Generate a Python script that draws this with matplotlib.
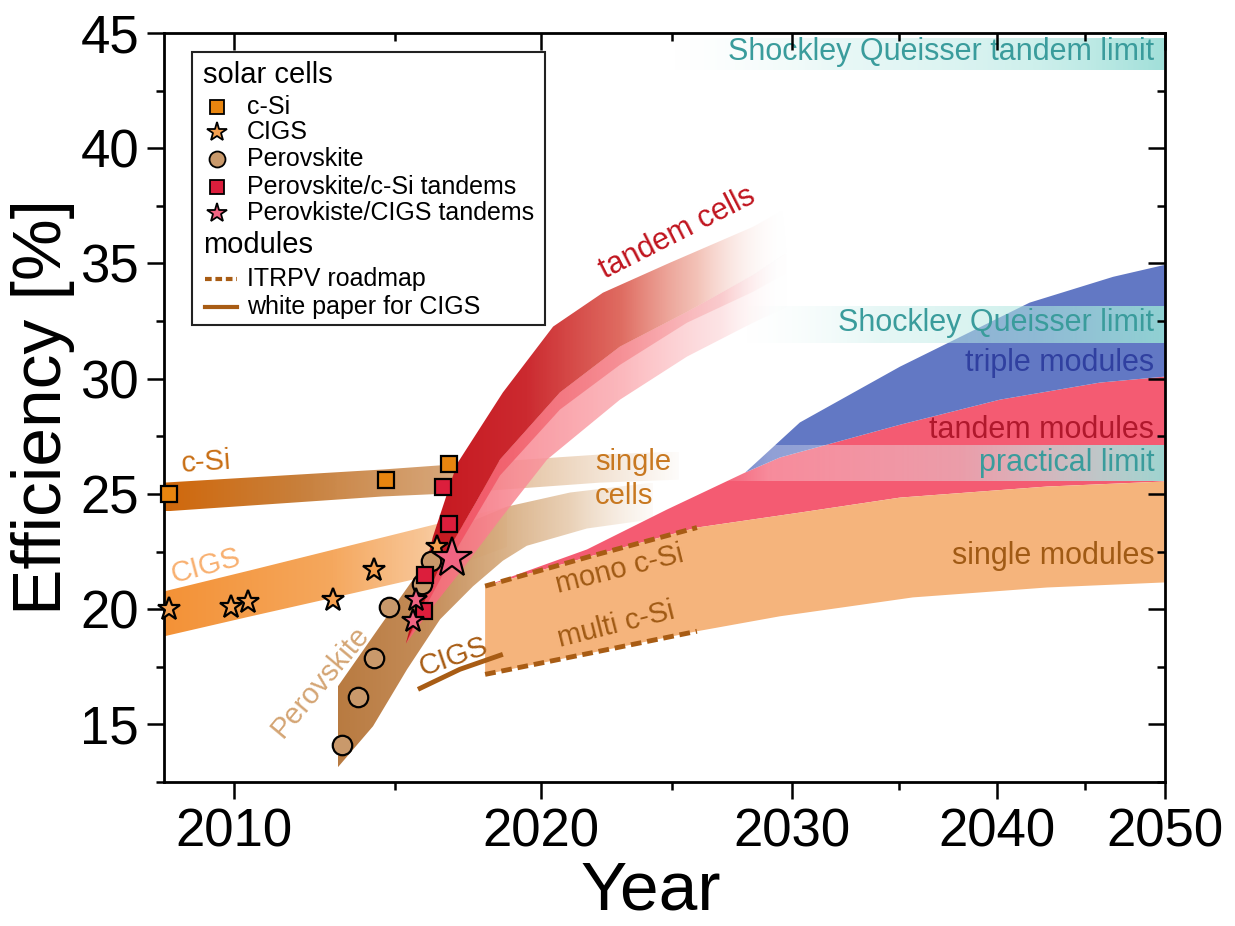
import numpy as np
import matplotlib.pyplot as plt
from matplotlib.colors import to_rgb
from matplotlib.patches import Rectangle

plt.rcParams['font.family'] = ['Liberation Sans', 'DejaVu Sans']

# record cells (year, efficiency %)
csi_year = [2008.1, 2014.7, 2016.8]
csi_eff = [25.0, 25.6, 26.3]
cigs_year = [2008.1, 2009.9, 2010.4, 2013.0, 2014.3, 2016.4]
cigs_eff = [20.0, 20.1, 20.3, 20.4, 21.7, 22.7]
pero_year = [2013.3, 2013.8, 2014.3, 2014.8, 2015.9, 2016.2]
pero_eff = [14.1, 16.2, 17.9, 20.1, 21.1, 22.1]
tsi_year = [2015.95, 2016.0, 2016.8, 2016.6]
tsi_eff = [19.9, 21.5, 23.7, 25.3]
tcigs_year = [2015.6, 2015.7, 2016.9]
tcigs_eff = [19.5, 20.4, 22.2]

# cell bands (edges as (year, eff))
csi_top = [(2007.96, 25.49), (2014.6, 26.06), (2016.82, 26.27), (2022.19, 26.71), (2025.3, 26.84)]
csi_bot = [(2007.96, 24.24), (2014.6, 24.89), (2016.82, 25.02), (2022.19, 25.49), (2025.3, 25.62)]
cigs_top = [(2007.96, 20.77), (2010.46, 21.68), (2013.54, 22.76), (2016.05, 23.59), (2018.8, 24.45)]
cigs_bot = [(2007.96, 18.82), (2010.46, 19.68), (2013.54, 20.66), (2016.05, 21.42), (2018.8, 22.7)]
pero_top = [(2013.16, 16.65), (2014.5, 19.25), (2015.59, 21.29), (2016.05, 22.3), (2017.16, 23.6),
            (2018.8, 24.45), (2021.07, 25.06), (2024.23, 25.49)]
pero_bot = [(2013.16, 13.14), (2014.28, 14.92), (2015.39, 17.39), (2016.49, 19.56), (2017.61, 20.99),
            (2018.65, 22.1), (2019.5, 22.75), (2021.7, 23.5), (2024.23, 23.9)]
tand_top = [(2015.35, 18.5), (2016.25, 23.15), (2017.06, 26.3), (2018.65, 29.4), (2020.45, 32.26),
            (2022.3, 33.73), (2024.9, 35.03), (2028.33, 36.59), (2029.6, 37.3)]
tand_mid = [(2015.35, 18.5), (2016.6, 22.2), (2017.7, 24.6), (2018.55, 26.49), (2020.7, 29.4),
            (2022.95, 31.39), (2025.59, 32.9), (2028.33, 34.5), (2029.8, 35.46)]
tand_stripe = [(2015.35, 18.5), (2017.0, 22.5), (2018.55, 25.8), (2020.7, 28.66), (2022.95, 30.6),
               (2025.59, 32.43), (2028.33, 33.77), (2029.8, 34.6)]
tand_bot = [(2015.35, 18.5), (2016.25, 20.12), (2017.16, 21.59), (2018.55, 23.89), (2020.23, 26.49),
            (2022.95, 29.09), (2025.59, 30.96), (2028.33, 32.43), (2029.8, 33.12)]

# module bands
single_top = [(2018.03, 21.0), (2021.85, 22.3), (2025.99, 23.54), (2030.37, 24.19), (2035.03, 24.84),
              (2042.78, 25.32), (2050, 25.54)]
single_bot = [(2018.03, 17.17), (2021.85, 18.1), (2025.99, 19.04), (2029.49, 19.69), (2035.67, 20.51),
              (2042.78, 20.94), (2050, 21.16)]
tmod_top = [(2018.03, 21.0), (2021.7, 22.59), (2024.78, 24.32), (2028.0, 25.93), (2029.49, 26.58),
            (2035.03, 28.0), (2040.17, 29.09), (2045.89, 29.83), (2050, 30.09)]
triple_top = [(2028.0, 25.93), (2030.37, 28.1), (2035.03, 30.52), (2041.8, 33.3), (2046.7, 34.42),
              (2050, 34.94)]

# roadmap lines
itrpv_year = [2018.03, 2021.85, 2025.99]
mono_eff = [21.0, 22.3, 23.54]
multi_eff = [17.17, 18.1, 19.04]
wp_year = [2015.75, 2017.16, 2018.65]
wp_eff = [16.52, 17.39, 18.04]

# limits (start year, low, high)
sqt_limit = (2025.0, 43.4, 44.8)
sq_limit = (2028.0, 31.56, 33.17)
prac_limit = (2026.5, 25.54, 27.14)

K = 0.02


def fwd(t):
    return -np.exp(-K * (np.asarray(t, dtype=float) - 2010))


def inv(u):
    u = np.asarray(u, dtype=float)
    return 2010 - np.log(np.maximum(-u, 1e-12)) / K


def grad_band(ax, top, bot, stops, z):
    xs = [p[0] for p in top] + [p[0] for p in bot[::-1]]
    ys = [p[1] for p in top] + [p[1] for p in bot[::-1]]
    poly, = ax.fill(xs, ys, facecolor='none', edgecolor='none', zorder=z)
    x0, x1, y0, y1 = min(xs), max(xs), min(ys), max(ys)
    cols = np.linspace(x0, x1, 500)
    sx = [s[0] for s in stops]
    rgb = np.array([to_rgb(s[1]) for s in stops])
    img = np.zeros((2, len(cols), 4))
    for k in range(3):
        img[:, :, k] = np.interp(cols, sx, rgb[:, k])
    img[:, :, 3] = np.interp(cols, sx, [s[2] for s in stops])
    im = ax.imshow(img, extent=(x0, x1, y0, y1), aspect='auto', origin='lower',
                   interpolation='bilinear', zorder=z)
    im.set_clip_path(poly)


def solid_band(ax, top, bot, color, z):
    xs = [p[0] for p in top] + [p[0] for p in bot[::-1]]
    ys = [p[1] for p in top] + [p[1] for p in bot[::-1]]
    ax.fill(xs, ys, facecolor=color, edgecolor='none', zorder=z)


fig = plt.figure(figsize=(12.35, 9.26), dpi=100)
ax = fig.add_axes([0.1328, 0.1555, 0.8105, 0.8089])
ax.set_xscale('function', functions=(fwd, inv))

# cells
grad_band(ax, csi_top, csi_bot, [(2008, '#d0680c', 1), (2012, '#c8803c', 1), (2016.5, '#d4a070', 0.95),
                                 (2020, '#e0b890', 0.7), (2025.3, '#e8c8a8', 0.05)], 1.0)
grad_band(ax, cigs_top, cigs_bot, [(2008, '#f39237', 1), (2013, '#f5a85e', 1), (2016, '#f8c08c', 0.9),
                                   (2018.8, '#f0c8a0', 0.3)], 1.1)
grad_band(ax, pero_top, pero_bot, [(2013, '#b87a40', 1), (2016, '#c48c58', 1), (2018.5, '#d4a676', 0.9),
                                   (2021, '#e0bc96', 0.7), (2024.2, '#ecd4bc', 0.1)], 1.2)
grad_band(ax, tand_mid, tand_bot, [(2015.3, '#f26472', 1), (2019, '#f98c96', 0.9), (2023, '#fba6ac', 0.8),
                                   (2027, '#fccacd', 0.5), (2029.8, '#ffffff', 0)], 1.3)
grad_band(ax, tand_mid, tand_stripe, [(2015.3, '#f04a5e', 1), (2019, '#f26470', 0.95), (2023, '#f68a90', 0.85),
                                      (2027, '#f9b8bb', 0.55), (2029.8, '#ffffff', 0)], 1.4)
grad_band(ax, tand_top, tand_mid, [(2015.3, '#c4141c', 1), (2019.5, '#cc2a30', 1), (2023, '#dc5c50', 0.9),
                                   (2026, '#ec9a88', 0.6), (2029.8, '#ffffff', 0)], 1.5)

# modules
solid_band(ax, tmod_top, single_top, '#f45b72', 1.6)
solid_band(ax, triple_top, tmod_top[3:], '#6278c4', 1.6)
solid_band(ax, single_top, single_bot, '#f5b47c', 1.7)

# limits
for (x0, lo, hi), stops in [
        (sqt_limit, [(2025, '#e8f8f6', 0), (2032, '#c8eeea', 0.4), (2042, '#aee6e0', 0.6), (2050, '#96dcd5', 0.9)]),
        (sq_limit, [(2028, '#e8f8f6', 0), (2034, '#c8eeea', 0.45), (2042, '#aee6e0', 0.6), (2050, '#96dcd5', 0.9)]),
        (prac_limit, [(2026.5, '#ffffff', 0), (2029, '#ffffff', 0.3), (2038, '#e0eeee', 0.45),
                      (2046, '#b0e4e0', 0.8), (2050, '#9adcd6', 0.95)])]:
    grad_band(ax, [(x0, hi), (2050, hi)], [(x0, lo), (2050, lo)], stops, 2.5)

brown = '#a85c14'
ax.plot(itrpv_year, mono_eff, ls=(0, (2.2, 1.2)), color=brown, lw=3.5, zorder=3)
ax.plot(itrpv_year, multi_eff, ls=(0, (2.2, 1.2)), color=brown, lw=3.5, zorder=3)
ax.plot(wp_year, wp_eff, color=brown, lw=3.5, zorder=3, solid_capstyle='butt')

# labels in the plot
fs = 21
ax.text(2009.17, 26.36, 'c-Si', color='#c86e14', fontsize=fs, rotation=4, ha='center', va='center', zorder=4)
ax.text(2009.17, 21.85, 'CIGS', color='#f8b070', fontsize=fs, rotation=15, ha='center', va='center', zorder=4)
ax.text(2012.6, 16.83, 'Perovskite', color='#d4a574', fontsize=fs, rotation=50, ha='center', va='center', zorder=4)
ax.text(2016.93, 17.95, 'CIGS', color=brown, fontsize=fs, rotation=19, ha='center', va='center', zorder=4)
ax.text(2025.2, 36.3, 'tandem cells', color='#c0141e', fontsize=22, rotation=27, ha='center', va='center', zorder=4)
ax.text(2022.0, 26.4, 'single', color='#c87820', fontsize=fs, ha='left', va='center', zorder=4)
ax.text(2022.0, 24.9, 'cells', color='#c87820', fontsize=fs, ha='left', va='center', zorder=4)
ax.text(2022.95, 21.72, 'mono c-Si', color='#a05a14', fontsize=fs, rotation=14, ha='center', va='center', zorder=4)
ax.text(2022.8, 19.34, 'multi c-Si', color='#a05a14', fontsize=fs, rotation=14, ha='center', va='center', zorder=4)

fr = 22
xr = 2049.3
ax.text(xr, 44.18, 'Shockley Queisser tandem limit', color='#3a9c9c', fontsize=fr, ha='right', va='center', zorder=4)
ax.text(xr, 32.43, 'Shockley Queisser limit', color='#3a9c9c', fontsize=fr, ha='right', va='center', zorder=4)
ax.text(xr, 30.7, 'triple modules', color='#3040a0', fontsize=fr, ha='right', va='center', zorder=4)
ax.text(xr, 27.79, 'tandem modules', color='#b0182c', fontsize=fr, ha='right', va='center', zorder=4)
ax.text(xr, 26.36, 'practical limit', color='#3a9c9c', fontsize=fr, ha='right', va='center', zorder=4)
ax.text(xr, 22.29, 'single modules', color='#a05a14', fontsize=fr, ha='right', va='center', zorder=4)

# markers
mk = dict(ls='none', mec='black', mew=1.6, clip_on=False, zorder=6)
ax.plot(csi_year, csi_eff, marker='s', ms=12, mfc='#e8850f', **mk)
ax.plot(cigs_year, cigs_eff, marker='*', ms=17, mfc='#f5a050', **mk)
ax.plot(pero_year, pero_eff, marker='o', ms=14, mfc='#c9996b', **mk)
ax.plot(tsi_year, tsi_eff, marker='s', ms=12, mfc='#dc1e3c', **mk)
ax.plot(tcigs_year[:2], tcigs_eff[:2], marker='*', ms=17, mfc='#f06482', **mk)
ax.plot(tcigs_year[2:], tcigs_eff[2:], marker='*', ms=30, mfc='#f06482', **mk)

# axes
ax.set_xlim(2007.96, 2050)
ax.set_ylim(12.5, 45)
ax.set_xticks([2010, 2020, 2030, 2040, 2050])
ax.set_xticks([2015, 2025, 2035, 2045], minor=True)
ax.set_yticks([15, 20, 25, 30, 35, 40, 45])
ax.set_yticks(np.arange(12.5, 45.1, 2.5), minor=True)
ax.tick_params(which='both', direction='out', width=1.8, labelsize=38, pad=6)
ax.tick_params(which='major', length=12)
ax.tick_params(which='minor', length=6)
for s in ax.spines.values():
    s.set_linewidth(2.0)
ax.set_xlabel('Year', fontsize=50, labelpad=2, x=0.486)
ax.set_ylabel('Efficiency [%]', fontsize=50, labelpad=4)

ax2 = fig.add_axes(ax.get_position(), sharex=ax, sharey=ax, frameon=False)
ax2.tick_params(which='both', direction='in', width=1.8, top=True, right=True, bottom=False, left=False,
                labelbottom=False, labelleft=False)
ax2.tick_params(which='major', length=12)
ax2.tick_params(which='minor', length=6)
ax2.patch.set_visible(False)

# legend (drawn by hand, axes coordinates)
tr = dict(transform=ax.transAxes, clip_on=False, zorder=20)
ax.add_patch(Rectangle((0.028, 0.610), 0.3526, 0.3646, transform=ax.transAxes, facecolor='white',
                       edgecolor='#222222', lw=1.5, zorder=19))
ax.text(0.039, 0.944, 'solar cells', fontsize=21, va='center', **tr)
legend_cells = [('s', 10.5, '#e8850f', 'c-Si', 0.901),
                ('*', 15, '#f5a050', 'CIGS', 0.868),
                ('o', 11.5, '#c9996b', 'Perovskite', 0.832),
                ('s', 10.5, '#dc1e3c', 'Perovskite/c-Si tandems', 0.794),
                ('*', 15, '#f06482', 'Perovkiste/CIGS tandems', 0.760)]
for m, size, c, label, y in legend_cells:
    ax.plot([0.053], [y], marker=m, ms=size, mfc=c, mec='black', mew=1.3, ls='none', **tr)
    ax.text(0.083, y, label, fontsize=18, va='center', **tr)
ax.text(0.039, 0.717, 'modules', fontsize=21, va='center', **tr)
ax.plot([0.041, 0.073], [0.672, 0.672], ls=(0, (1.6, 0.9)), color=brown, lw=3, **tr)
ax.text(0.083, 0.672, 'ITRPV roadmap', fontsize=18, va='center', **tr)
ax.plot([0.041, 0.073], [0.634, 0.634], color=brown, lw=3, **tr)
ax.text(0.083, 0.634, 'white paper for CIGS', fontsize=18, va='center', **tr)

fig.savefig('out.png', dpi=100)
